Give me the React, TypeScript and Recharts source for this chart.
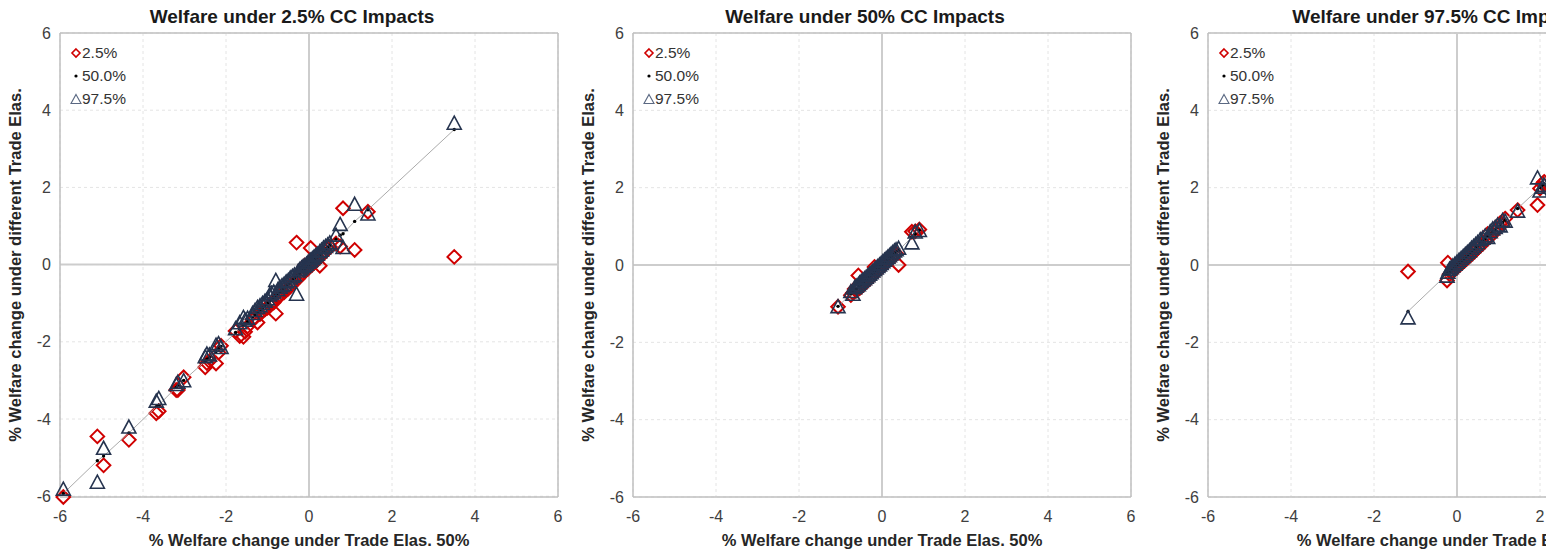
import React from 'react';
import { ScatterChart, Scatter, XAxis, YAxis, CartesianGrid, ReferenceLine } from 'recharts';

const ticks = [-6, -4, -2, 0, 2, 4, 6];
const seriesNames = ['2.5%', '50.0%', '97.5%'];
const titles = ['Welfare under 2.5% CC Impacts', 'Welfare under 50% CC Impacts', 'Welfare under 97.5% CC Impacts'];
const xLabel = '% Welfare change under Trade Elas. 50%';
const yLabel = '% Welfare change under different Trade Elas.';

// panel 1 : 2.5% CC impacts
const p1X = [-5.92, -5.1, -4.95, -4.34, -3.68, -3.62, -3.2, -3.16, -3.02, -2.5, -2.46, -2.4, -2.24, -2.18, -2.12, -1.77, -1.67, -1.58, -1.54, -1.48,
  -1.36, -1.3, -1.24, -1.18, -1.12, -1.06, -1.0, -0.95, -0.9, -0.85, -0.8, -0.75, -0.7, -0.65, -0.6, -0.55, -0.5, -0.45, -0.4, -0.35,
  -0.3, -0.26, -0.22, -0.18, -0.14, -0.1, -0.06, -0.02, 0.02, 0.04, 0.08, 0.12, 0.16, 0.2, 0.26, 0.3, 0.35, 0.4, 0.45, 0.5,
  0.65, 0.75, 0.82, 1.1, 1.42, 3.5];
const p1Lo = [-6.02, -4.45, -5.2, -4.54, -3.85, -3.8, -3.25, -3.25, -2.92, -2.66, -2.55, -2.5, -2.56, -2.28, -2.1, -1.72, -1.85, -1.87, -1.74, -1.6,
  -1.42, -1.38, -1.5, -1.28, -1.2, -1.16, -1.12, -1.05, -1.0, -0.98, -1.27, -0.85, -0.8, -0.75, -0.72, -0.66, -0.62, -0.56, -0.5, -0.44,
  0.57, -0.36, -0.3, -0.26, -0.22, -0.02, -0.12, -0.1, -0.04, 0.43, 0.0, 0.05, 0.1, 0.12, -0.03, 0.24, 0.3, 0.34, 0.4, 0.46,
  0.55, 0.47, 1.46, 0.38, 1.37, 0.2];
const p1Mid = [-5.93, -5.08, -4.96, -4.36, -3.68, -3.64, -3.18, -3.14, -3.0, -2.5, -2.45, -2.4, -2.25, -2.18, -2.12, -1.76, -1.67, -1.58, -1.54, -1.48,
  -1.36, -1.3, -1.24, -1.18, -1.12, -1.06, -1.0, -0.95, -0.9, -0.85, -0.8, -0.75, -0.7, -0.65, -0.6, -0.55, -0.5, -0.45, -0.4, -0.35,
  -0.3, -0.26, -0.22, -0.18, -0.14, -0.1, -0.06, -0.02, 0.02, 0.04, 0.08, 0.12, 0.16, 0.2, 0.26, 0.3, 0.35, 0.4, 0.45, 0.5,
  0.66, 0.76, 0.8, 1.12, 1.42, 3.5];
const p1Hi = [-5.83, -5.65, -4.77, -4.22, -3.55, -3.48, -3.12, -3.06, -3.02, -2.4, -2.33, -2.35, -2.1, -2.06, -2.16, -1.67, -1.52, -1.38, -1.45, -1.4,
  -1.28, -1.2, -1.12, -1.08, -1.02, -0.96, -0.9, -0.8, -0.76, -0.72, -0.42, -0.66, -0.6, -0.56, -0.52, -0.46, -0.42, -0.36, -0.32, -0.28,
  -0.78, -0.18, -0.14, -0.1, -0.06, -0.04, 0.0, 0.05, 0.08, 0.1, 0.14, 0.18, 0.22, 0.26, 0.32, 0.36, 0.42, 0.46, 0.5, 0.55,
  0.75, 1.03, 0.43, 1.55, 1.3, 3.65];

// panel 2 : 50% CC impacts
const p2X = [-1.06, -0.75, -0.7, -0.66, -0.62, -0.57, -0.54, -0.5, -0.46, -0.42, -0.38, -0.34, -0.3, -0.26, -0.22, -0.18, -0.14,
  -0.1, -0.06, -0.02, 0.02, 0.06, 0.1, 0.14, 0.18, 0.22, 0.26, 0.3, 0.34, 0.4, 0.72, 0.8, 0.9];
const p2Lo = [-1.08, -0.78, -0.72, -0.62, -0.66, -0.27, -0.6, -0.56, -0.5, -0.47, -0.43, -0.4, -0.35, -0.3, -0.26, -0.05, -0.18,
  -0.14, -0.1, -0.06, -0.02, 0.02, 0.06, 0.1, 0.14, 0.18, 0.22, 0.27, 0.3, 0.0, 0.86, 0.87, 0.92];
const p2Mid = [-1.07, -0.75, -0.7, -0.66, -0.62, -0.57, -0.54, -0.5, -0.46, -0.42, -0.38, -0.34, -0.3, -0.26, -0.22, -0.18, -0.14,
  -0.1, -0.06, -0.02, 0.02, 0.06, 0.1, 0.14, 0.18, 0.22, 0.26, 0.3, 0.34, 0.38, 0.72, 0.8, 0.9];
const p2Hi = [-1.09, -0.7, -0.77, -0.6, -0.56, -0.52, -0.48, -0.44, -0.4, -0.37, -0.33, -0.29, -0.25, -0.21, -0.17, -0.13, -0.09,
  -0.05, -0.01, 0.03, 0.07, 0.11, 0.15, 0.19, 0.23, 0.27, 0.31, 0.35, 0.38, 0.42, 0.56, 0.84, 0.88];

// panel 3 : 97.5% CC impacts
const p3X = [-1.18, -0.24, -0.22, -0.18, -0.14, -0.1, -0.05, 0.0, 0.05, 0.1, 0.15, 0.2, 0.25, 0.3, 0.35, 0.4, 0.45,
  0.5, 0.56, 0.62, 0.68, 0.74, 0.8, 0.86, 0.92, 0.98, 1.04, 1.1, 1.16, 1.46, 1.94, 2.0, 2.06, 2.1];
const p3Lo = [-0.17, -0.4, 0.06, -0.24, -0.2, -0.16, -0.1, -0.06, -0.01, 0.04, 0.08, 0.13, 0.18, 0.23, 0.28, 0.33, 0.38,
  0.43, 0.5, 0.55, 0.62, 0.8, 0.74, 0.8, 0.88, 0.94, 1.08, 1.06, 1.2, 1.42, 1.55, 1.98, 2.1, 2.15];
const p3Mid = [-1.2, -0.24, -0.2, -0.18, -0.14, -0.1, -0.05, 0.0, 0.05, 0.1, 0.15, 0.2, 0.25, 0.3, 0.35, 0.4, 0.45,
  0.5, 0.56, 0.62, 0.68, 0.74, 0.8, 0.86, 0.92, 0.98, 1.04, 1.1, 1.16, 1.46, 1.94, 2.0, 2.06, 2.1];
const p3Hi = [-1.38, -0.3, -0.2, -0.12, -0.08, -0.04, 0.01, 0.06, 0.11, 0.16, 0.21, 0.26, 0.31, 0.36, 0.42, 0.47, 0.52,
  0.57, 0.64, 0.68, 0.74, 0.7, 0.85, 0.92, 0.96, 1.02, 1.0, 1.14, 1.12, 1.38, 2.24, 1.9, 2.0, 2.05];

const W = 574;
const H = 558;
const FONT = '"Liberation Sans", Arial, sans-serif';
const RED = '#D00000';
const NAVY = '#26344F';

const Diamond = (props: any) => {
  const { cx, cy } = props;
  const r = 6.8;
  return <path d={`M${cx},${cy - r}L${cx + r},${cy}L${cx},${cy + r}L${cx - r},${cy}Z`} fill="none" stroke={RED} strokeWidth={2} />;
};
const Dot = (props: any) => <circle cx={props.cx} cy={props.cy} r={1.7} fill="#000" />;
const Triangle = (props: any) => {
  const { cx, cy } = props;
  return <path d={`M${cx},${cy - 7.5}L${cx + 7},${cy + 5.5}L${cx - 7},${cy + 5.5}Z`} fill="none" stroke={NAVY} strokeWidth={1.6} />;
};

const pts = (xs: number[], ys: number[]) => xs.map((x, i) => ({ x, y: ys[i] }));

function LegendBox() {
  const row = { display: 'flex', alignItems: 'center', height: 23 } as const;
  return (
    <div style={{ position: 'absolute', left: 70, top: 41, fontFamily: FONT, fontSize: 15.5, color: '#333' }}>
      <div style={row}>
        <svg width={12} height={12}><path d="M6,2L10,6L6,10L2,6Z" fill="none" stroke={RED} strokeWidth={1.6} /></svg>
        <span>{seriesNames[0]}</span>
      </div>
      <div style={row}>
        <svg width={12} height={12}><circle cx={6} cy={6} r={1.6} fill="#000" /></svg>
        <span>{seriesNames[1]}</span>
      </div>
      <div style={row}>
        <svg width={12} height={12}><path d="M6,1.5L11,10.5L1,10.5Z" fill="none" stroke="#5A6882" strokeWidth={1.1} /></svg>
        <span>{seriesNames[2]}</span>
      </div>
    </div>
  );
}

function Panel({ left, title, xs, lo, mid, hi }: { left: number; title: string; xs: number[]; lo: number[]; mid: number[]; hi: number[] }) {
  return (
    <div style={{ position: 'absolute', left, top: 0, width: W, height: H }}>
      <ScatterChart width={W} height={H} margin={{ top: 33, right: 16, bottom: 0, left: 0 }}>
        <CartesianGrid strokeDasharray="3 3" stroke="#E4E4E4" />
        <XAxis type="number" dataKey="x" domain={[-6, 6]} ticks={ticks} height={61} tickLine={false} tickMargin={8}
          axisLine={{ stroke: '#BFBFBF', strokeWidth: 1.5 }} tick={{ fill: '#404040', fontSize: 16, fontFamily: FONT }} />
        <YAxis type="number" dataKey="y" domain={[-6, 6]} ticks={ticks} width={60} tickLine={false} tickMargin={3}
          axisLine={{ stroke: '#BFBFBF', strokeWidth: 1.5 }} tick={{ fill: '#404040', fontSize: 16, fontFamily: FONT }} />
        <ReferenceLine x={6} stroke="#BFBFBF" strokeWidth={1.5} />
        <ReferenceLine y={6} stroke="#BFBFBF" strokeWidth={1.5} />
        <ReferenceLine x={0} stroke="#CDCDCD" strokeWidth={2} />
        <ReferenceLine y={0} stroke="#CDCDCD" strokeWidth={2} />
        <Scatter name={seriesNames[0]} data={pts(xs, lo)} shape={Diamond} isAnimationActive={false} />
        <Scatter name={seriesNames[1]} data={pts(xs, mid)} shape={Dot} line={{ stroke: '#ABABAB', strokeWidth: 1 }} isAnimationActive={false} />
        <Scatter name={seriesNames[2]} data={pts(xs, hi)} shape={Triangle} isAnimationActive={false} />
      </ScatterChart>
      <div style={{ position: 'absolute', left: 0, top: 6, width: 584, textAlign: 'center', fontFamily: FONT, fontWeight: 'bold', fontSize: 19, lineHeight: '22px', color: '#1a1a1a', whiteSpace: 'nowrap' }}>{title}</div>
      <div style={{ position: 'absolute', left: 60, top: 530, width: 498, textAlign: 'center', fontFamily: FONT, fontWeight: 'bold', fontSize: 16.5, lineHeight: '20px', color: '#262626', whiteSpace: 'nowrap' }}>{xLabel}</div>
      <div style={{ position: 'absolute', left: 15, top: 265, transform: 'translate(-50%, -50%) rotate(-90deg)', fontFamily: FONT, fontWeight: 'bold', fontSize: 16.5, lineHeight: '20px', color: '#262626', whiteSpace: 'nowrap' }}>{yLabel}</div>
      <LegendBox />
    </div>
  );
}

export default function App() {
  return (
    <div style={{ position: 'absolute', left: 0, top: 0, width: 1546, height: 558, overflow: 'hidden', background: '#fff' }}>
      <Panel left={0} title={titles[0]} xs={p1X} lo={p1Lo} mid={p1Mid} hi={p1Hi} />
      <Panel left={573} title={titles[1]} xs={p2X} lo={p2Lo} mid={p2Mid} hi={p2Hi} />
      <Panel left={1148} title={titles[2]} xs={p3X} lo={p3Lo} mid={p3Mid} hi={p3Hi} />
    </div>
  );
}
